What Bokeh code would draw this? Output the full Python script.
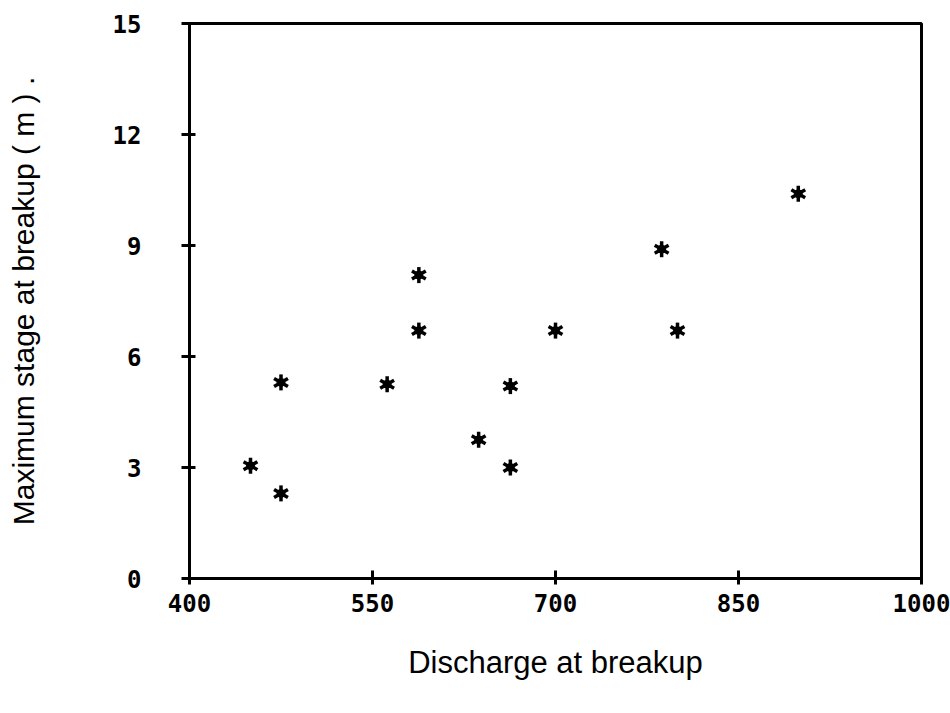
from bokeh.plotting import figure
from bokeh.models import Range1d, FixedTicker
from bokeh.embed import file_html
from bokeh.resources import INLINE

# Data
discharge = [450, 475, 475, 562, 588, 588, 637, 663, 663, 700, 787, 800, 899]
max_stage = [3.05, 2.3, 5.3, 5.25, 8.2, 6.7, 3.75, 5.2, 3.0, 6.7, 8.9, 6.7, 10.4]

x_ticks = [400, 550, 700, 850, 1000]
y_ticks = [0, 3, 6, 9, 12, 15]

p = figure(width=950, height=713, output_backend="svg", toolbar_location=None,
           x_range=Range1d(400, 1000), y_range=Range1d(0, 15),
           min_border_left=189, min_border_right=29, min_border_top=23,
           min_border_bottom=135)

p.background_fill_color = "white"
p.border_fill_color = "white"
p.grid.visible = False
p.outline_line_color = "black"
p.outline_line_width = 3

# Six-armed asterisk markers built from three rotated dashes + centre dot
for ang in (90, 30, -30):
    p.scatter(discharge, max_stage, marker="dash", size=16, angle=ang,
              angle_units="deg", line_color="black", line_width=3.5)
p.scatter(discharge, max_stage, marker="circle", size=8, fill_color="black",
          line_color="black")

tick_font = "DejaVu Sans Mono"
label_font = "Liberation Sans"

xa = p.xaxis[0]
xa.ticker = FixedTicker(ticks=x_ticks)
xa.axis_label = "Discharge at breakup"
xa.axis_label_text_font = label_font
xa.axis_label_text_font_size = "31px"
xa.axis_label_text_font_style = "normal"
xa.axis_label_text_color = "black"
xa.axis_label_standoff = 30
xa.major_label_text_font = tick_font
xa.major_label_text_font_style = "bold"
xa.major_label_text_font_size = "24px"
xa.major_label_text_color = "black"
xa.major_label_standoff = 9
xa.major_tick_in = 8
xa.major_tick_out = 6
xa.minor_tick_line_color = None
xa.axis_line_width = 3
xa.major_tick_line_width = 3
xa.axis_line_color = "black"
xa.major_tick_line_color = "black"

ya = p.yaxis[0]
ya.ticker = FixedTicker(ticks=y_ticks)
ya.axis_label = "Maximum stage at breakup ( m ) ."
ya.axis_label_text_font = label_font
ya.axis_label_text_font_size = "30px"
ya.axis_label_text_font_style = "normal"
ya.axis_label_text_color = "black"
ya.axis_label_standoff = 70
ya.major_label_text_font = tick_font
ya.major_label_text_font_style = "bold"
ya.major_label_text_font_size = "24px"
ya.major_label_text_color = "black"
ya.major_label_standoff = 40
ya.major_tick_in = 6
ya.major_tick_out = 8
ya.minor_tick_line_color = None
ya.axis_line_width = 3
ya.major_tick_line_width = 3
ya.axis_line_color = "black"
ya.major_tick_line_color = "black"

open("out.html", "w").write(file_html(p, INLINE))
